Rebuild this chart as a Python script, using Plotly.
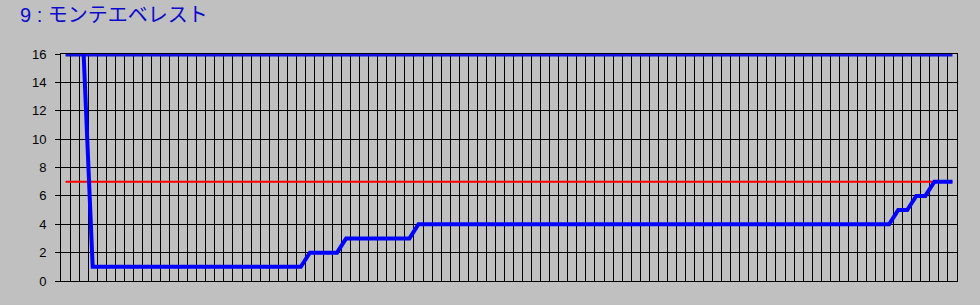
import plotly.graph_objects as go

# ---- data ----
n_points = 99
categories = list(range(n_points))
rank_values = ([None, None, 16] + [1] * 24 + [2] * 4 + [3] * 8 + [4] * 53
               + [5] * 2 + [6] * 2 + [7] * 3)
max_values = [16] * n_points
threshold_values = [7] * n_points
y_ticks = [0, 2, 4, 6, 8, 10, 12, 14, 16]
title_text = "9 : モンテエベレスト"

BG = "#C0C0C0"
BLUE = "#0000FF"

fig = go.Figure()
fig.add_trace(go.Scatter(x=categories, y=threshold_values, mode="lines",
                         line=dict(color="#FF0000", width=2), hoverinfo="skip"))
fig.add_trace(go.Scatter(x=categories, y=max_values, mode="lines",
                         line=dict(color="#1010E0", width=5), hoverinfo="skip"))
fig.add_trace(go.Scatter(x=categories, y=rank_values, mode="lines",
                         line=dict(color=BLUE, width=4), hoverinfo="skip",
                         connectgaps=False))

grid_x = [i - 0.5 for i in range(n_points + 1)]

fig.update_layout(
    width=980, height=305,
    paper_bgcolor=BG, plot_bgcolor=BG,
    margin=dict(l=61, r=23, t=54, b=24),
    showlegend=False,
    title=dict(text=title_text, x=20 / 980, xanchor="left", y=1 - 15 / 305,
               yanchor="middle",
               font=dict(family="Liberation Sans, Noto Sans CJK JP", size=20,
                         color="#0A0ACC")),
    xaxis=dict(range=[-0.5, n_points - 0.5], tickmode="array", tickvals=grid_x,
               showticklabels=False, ticks="", showgrid=True,
               gridcolor="#000000", gridwidth=1, zeroline=False,
               showline=True, linecolor="#000000", linewidth=1, mirror=True),
    yaxis=dict(range=[0, 16], tickmode="array", tickvals=y_ticks,
               ticktext=[str(v) for v in y_ticks],
               ticks="outside", ticklen=5, tickcolor="#000000", tickwidth=1,
               ticklabelstandoff=6,
               tickfont=dict(family="Liberation Sans", size=13, color="#000000"),
               showgrid=True, gridcolor="#000000", gridwidth=1, zeroline=False,
               showline=True, linecolor="#000000", linewidth=1, mirror=True),
)

fig.write_html("out.html")
